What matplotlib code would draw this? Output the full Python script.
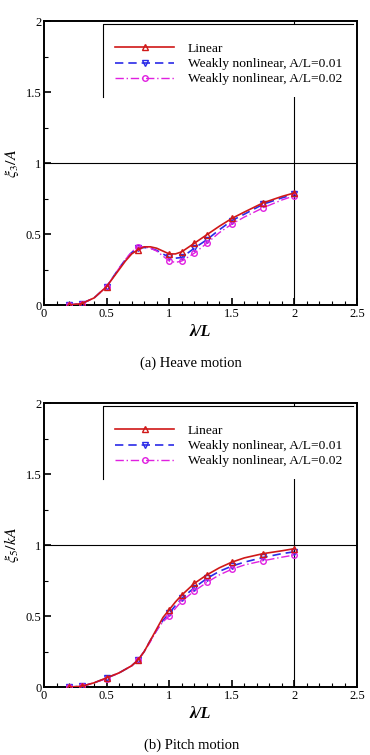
import matplotlib
matplotlib.use("Agg")
import matplotlib.pyplot as plt
from matplotlib.patches import Rectangle
from matplotlib.ticker import MultipleLocator

plt.rcParams['font.family'] = ['Liberation Serif', 'DejaVu Serif']
plt.rcParams['mathtext.fontset'] = 'stix'

# heave motion (a)
x_heave = [0.2, 0.3, 0.4, 0.5, 0.6, 0.65, 0.7, 0.75, 0.8, 0.85, 0.9, 0.95,
           1.0, 1.05, 1.1, 1.2, 1.3, 1.4, 1.5, 1.6, 1.75, 1.9, 2.0]
heave_linear = [0.0, 0.01, 0.05, 0.13, 0.25, 0.31, 0.36, 0.39, 0.41, 0.41, 0.40, 0.38,
                0.36, 0.36, 0.375, 0.435, 0.495, 0.555, 0.61, 0.655, 0.72, 0.765, 0.79]
heave_nl01 = [0.0, 0.01, 0.05, 0.13, 0.26, 0.32, 0.37, 0.40, 0.405, 0.40, 0.385, 0.36,
              0.335, 0.33, 0.335, 0.40, 0.46, 0.53, 0.595, 0.64, 0.71, 0.755, 0.78]
heave_nl02 = [0.0, 0.01, 0.05, 0.13, 0.26, 0.32, 0.375, 0.41, 0.41, 0.40, 0.38, 0.345,
              0.31, 0.30, 0.31, 0.365, 0.435, 0.51, 0.57, 0.62, 0.685, 0.74, 0.77]
heave_marks = [0, 1, 3, 7, 12, 14, 15, 16, 18, 20, 22]

# pitch motion (b)
x_pitch = [0.2, 0.3, 0.4, 0.5, 0.6, 0.7, 0.75, 0.8, 0.85, 0.9, 0.95, 1.0, 1.05,
           1.1, 1.2, 1.3, 1.4, 1.5, 1.6, 1.75, 1.9, 2.0]
pitch_linear = [0.0, 0.005, 0.03, 0.065, 0.10, 0.15, 0.19, 0.25, 0.33, 0.41, 0.49, 0.545,
                0.60, 0.648, 0.73, 0.79, 0.84, 0.88, 0.91, 0.94, 0.96, 0.975]
pitch_nl01 = [0.0, 0.005, 0.03, 0.063, 0.10, 0.15, 0.19, 0.25, 0.33, 0.40, 0.47, 0.52,
              0.575, 0.625, 0.70, 0.765, 0.815, 0.852, 0.88, 0.913, 0.94, 0.953]
pitch_nl02 = [0.0, 0.005, 0.03, 0.06, 0.10, 0.15, 0.19, 0.25, 0.32, 0.40, 0.46, 0.50,
              0.555, 0.606, 0.676, 0.737, 0.79, 0.83, 0.86, 0.89, 0.915, 0.93]
pitch_marks = [0, 1, 3, 6, 11, 13, 14, 15, 17, 19, 21]

labels = ['Linear', 'Weakly nonlinear, A/L=0.01', 'Weakly nonlinear, A/L=0.02']

fig = plt.figure(figsize=(3.7, 7.55), dpi=100)
ax1 = fig.add_axes([0.119, 0.596, 0.846, 0.376])
ax2 = fig.add_axes([0.119, 0.090, 0.846, 0.376])


def draw(ax, x, ylin, y1, y2, marks, ylabel, caption):
    ax.axhline(1.0, color='black', lw=0.8, zorder=1)
    ax.axvline(2.0, color='black', lw=0.8, zorder=1)
    ax.plot(x, ylin, color='#d01818', lw=1.2, ls='-', marker='^', ms=4,
            mfc='none', mew=1, markevery=marks, label=labels[0], zorder=4)
    ax.plot(x, y1, color='#2a2ae8', lw=1.2, ls=(0, (5, 3)), marker='v', ms=4,
            mfc='none', mew=1, markevery=marks, label=labels[1], zorder=3)
    ax.plot(x, y2, color='#e020e0', lw=1.0, ls=(0, (6, 2, 1, 2)), marker='o', ms=4,
            mfc='none', mew=1, markevery=marks, label=labels[2], zorder=3)

    # legend box: white area with top and left edges only
    ax.add_patch(Rectangle((0.1885, 0.732), 0.80, 0.257, transform=ax.transAxes,
                           facecolor='white', edgecolor='none', zorder=5))
    ax.plot([0.1885, 0.1885, 0.987], [0.732, 0.989, 0.989], color='black', lw=0.8,
            transform=ax.transAxes, zorder=6)
    leg = ax.legend(loc='upper left', bbox_to_anchor=(0.21, 0.943), frameon=False,
                    fontsize=9.7, handlelength=4.4, handletextpad=1.0,
                    labelspacing=0.2, borderaxespad=0)
    leg.set_zorder(7)

    ax.set_xlim(0, 2.5)
    ax.set_ylim(0, 2)
    ax.xaxis.set_major_locator(MultipleLocator(0.5))
    ax.xaxis.set_minor_locator(MultipleLocator(0.1))
    ax.yaxis.set_major_locator(MultipleLocator(0.5))
    ax.yaxis.set_minor_locator(MultipleLocator(0.25))
    ax.xaxis.set_major_formatter(plt.FuncFormatter(lambda v, p: ('%g' % v)))
    ax.yaxis.set_major_formatter(plt.FuncFormatter(lambda v, p: ('%g' % v)))
    ax.tick_params(which='both', direction='in', top=False, right=False,
                   labelsize=9, pad=2)
    ax.tick_params(which='major', length=5, width=1.2)
    ax.tick_params(which='minor', length=3, width=0.8)
    for s in ax.spines.values():
        s.set_linewidth(1.4)

    ax.set_xlabel('λ/L', fontsize=11.5, fontstyle='italic', fontweight='bold', labelpad=3)
    ax.set_ylabel(ylabel, fontsize=11.5, labelpad=3)
    ax.text(0.47, -0.18, caption, transform=ax.transAxes, ha='center', va='top',
            fontsize=10.5)


draw(ax1, x_heave, heave_linear, heave_nl01, heave_nl02, heave_marks,
     r'$\xi_3/A$', '(a) Heave motion')
draw(ax2, x_pitch, pitch_linear, pitch_nl01, pitch_nl02, pitch_marks,
     r'$\xi_5/kA$', '(b) Pitch motion')

fig.savefig('out.png', dpi=100)
